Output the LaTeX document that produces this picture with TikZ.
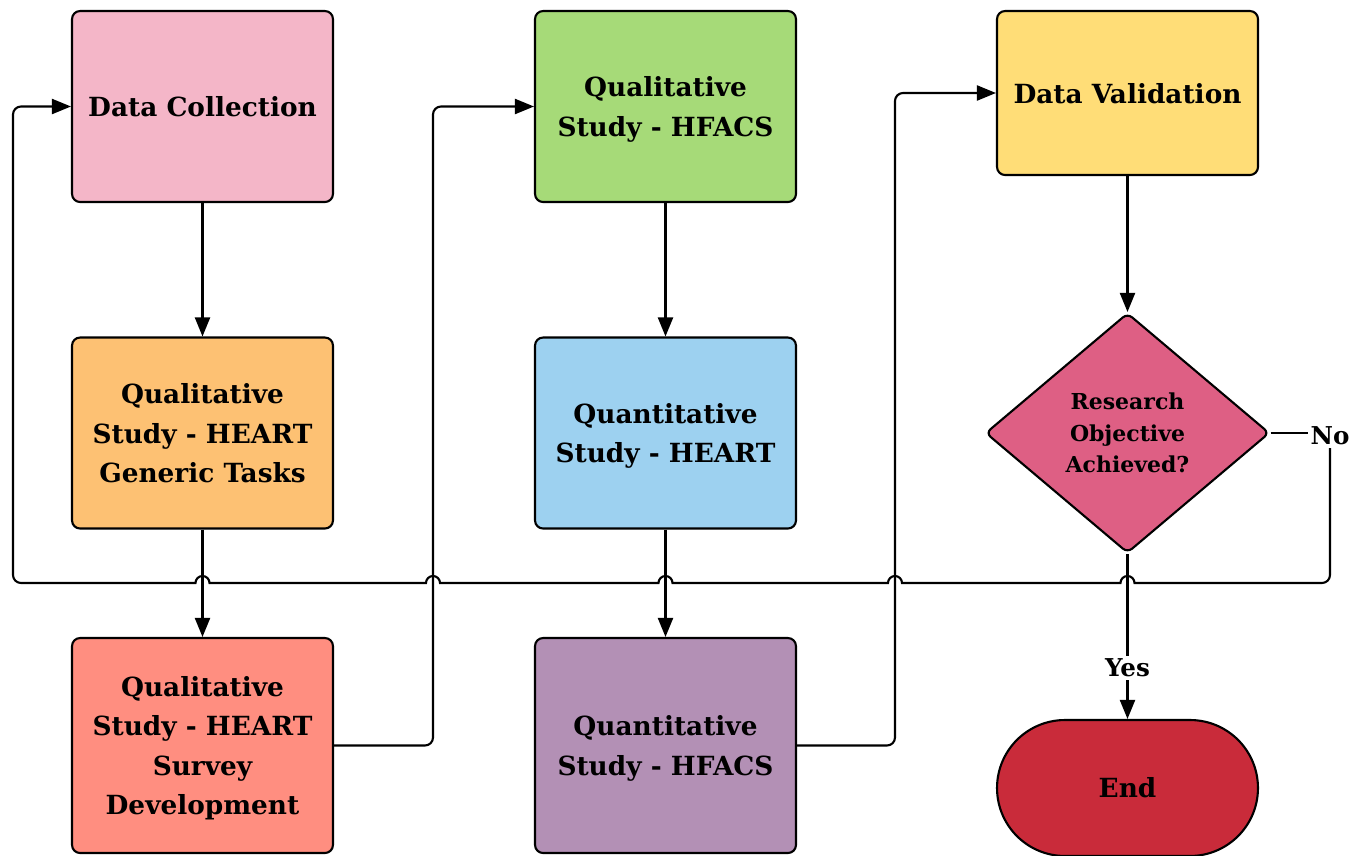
\documentclass[tikz,border=0pt]{standalone}
\usepackage{fontspec}
\setmainfont{DejaVu Serif}
\usetikzlibrary{arrows.meta,shapes.geometric,shapes.misc}
\definecolor{cDC}{RGB}{244,182,200}
\definecolor{cOr}{RGB}{253,193,115}
\definecolor{cSa}{RGB}{255,142,128}
\definecolor{cGr}{RGB}{166,218,120}
\definecolor{cBl}{RGB}{157,209,240}
\definecolor{cPu}{RGB}{179,144,181}
\definecolor{cYe}{RGB}{255,221,119}
\definecolor{cDi}{RGB}{222,95,132}
\definecolor{cEn}{RGB}{201,43,58}
\tikzset{
  stepbox/.style={draw, line width=1.2pt, rounded corners=0.16cm, minimum width=5.22cm, minimum height=3.82cm, align=center, inner sep=0pt, text depth=-2pt, font=\bfseries\fontsize{15}{22.3}\selectfont},
  decisionbox/.style={draw, line width=1.2pt, diamond, rounded corners=0.12cm, minimum width=5.68cm, minimum height=4.8cm, inner sep=0pt, align=center, font=\bfseries\fontsize{12.5}{17.8}\selectfont},
  endbox/.style={draw, line width=1.2pt, rounded rectangle, minimum width=5.22cm, minimum height=2.72cm, inner sep=0pt, font=\bfseries\fontsize{15}{18}\selectfont},
  lbl/.style={inner sep=1.5pt, font=\bfseries\fontsize{14}{16}\selectfont},
  conn/.style={line width=1.2pt},
  arr/.style={conn, -{Triangle[length=0.38cm,width=0.3cm]}},
}
\begin{document}
\begin{tikzpicture}[x=0.02cm,y=-0.02cm]
\useasboundingbox (0,0) rectangle (1350,856);
% nodes
\node[stepbox, fill=cDC] (dc) at (202.5,106.5) {Data Collection};
\node[stepbox, fill=cOr] (qh) at (202.5,433) {Qualitative\\Study - HEART\\Generic Tasks};
\node[stepbox, fill=cSa, minimum height=4.3cm] (sv) at (202.5,745.5) {Qualitative\\Study - HEART\\Survey\\Development};
\node[stepbox, fill=cGr] (qf) at (665.5,106.5) {Qualitative\\Study - HFACS};
\node[stepbox, fill=cBl] (nh) at (665.5,433) {Quantitative\\Study - HEART};
\node[stepbox, fill=cPu, minimum height=4.3cm] (nf) at (665.5,745.5) {Quantitative\\Study - HFACS};
\node[stepbox, fill=cYe, minimum height=3.28cm] (dv) at (1127.5,93) {Data Validation};
\node[decisionbox, fill=cDi] (ro) at (1127.5,433) {Research\\Objective\\Achieved?};
\node[endbox, fill=cEn] (en) at (1127.5,788) {End};
\node[lbl] (no) at (1330,436) {No};
\node[lbl] (yes) at (1127.5,668) {Yes};
% straight arrows
\draw[arr] (dc.south) -- (qh.north);
\draw[arr] (qh.south) -- (sv.north);
\draw[arr] (qf.south) -- (nh.north);
\draw[arr] (nh.south) -- (nf.north);
\draw[arr] (dv.south) -- (ro.north);
\draw[conn] (ro.south) -- (yes.north);
\draw[arr] (yes.south) -- (en.north);
\draw[conn] (ro.east) -- (ro.east -| no.west);
% elbow arrows
\draw[arr, rounded corners=0.16cm] (sv.east) -- (sv.east -| 433,0) -- (qf.west -| 433,0) -- (qf.west);
\draw[arr, rounded corners=0.16cm] (nf.east) -- (nf.east -| 895,0) -- (dv.west -| 895,0) -- (dv.west);
% feedback loop with hops
\draw[arr] (no.south) [rounded corners=0.16cm] -- (1330,583) -- (1200,583) [sharp corners]
  -- (1134.5,583) arc[start angle=0,end angle=180,radius=0.14cm]
  -- (902,583) arc[start angle=0,end angle=180,radius=0.14cm]
  -- (672.5,583) arc[start angle=0,end angle=180,radius=0.14cm]
  -- (440,583) arc[start angle=0,end angle=180,radius=0.14cm]
  -- (209.5,583) arc[start angle=0,end angle=180,radius=0.14cm]
  -- (150,583) [rounded corners=0.16cm] -- (13,583) -- (dc.west -| 13,0) -- (dc.west);
\end{tikzpicture}
\end{document}
